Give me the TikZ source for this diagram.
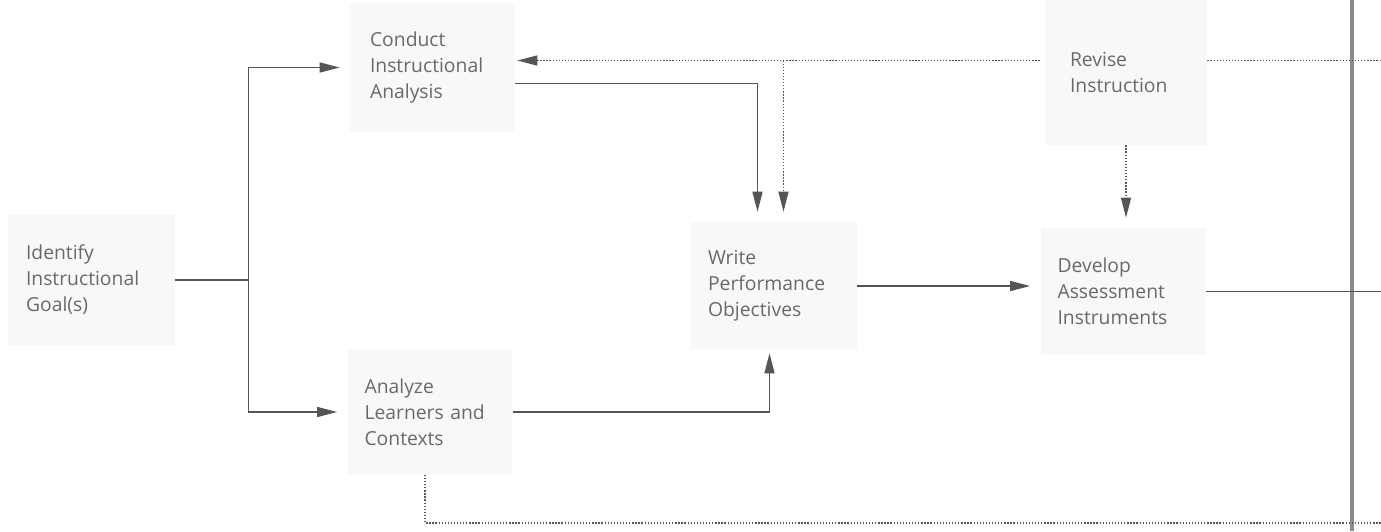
\documentclass[tikz,border=0pt]{standalone}
\usepackage{fontspec}
\setmainfont{Open Sans}
\usetikzlibrary{arrows.meta,positioning,calc}
\definecolor{LineGray}{RGB}{85,85,85}
\definecolor{TextGray}{RGB}{105,105,105}
\definecolor{BoxFill}{RGB}{248,248,248}
\definecolor{PageFold}{RGB}{140,140,140}
\tikzset{
  stepbox/.style={fill=BoxFill,minimum width=3.3cm,minimum height=2.6cm,
    text width=2.62cm,inner xsep=0.34cm,align=left,text=TextGray,
    font=\fontsize{11}{14.8}\selectfont},
  flow/.style={LineGray,line width=0.75pt},
  arrow/.style={flow,-{Triangle[length=0.4cm,width=0.2cm]},shorten >=0.2cm},
  dotarrow/.style={arrow,densely dotted},
  dotline/.style={flow,densely dotted}
}

\begin{document}
\begin{tikzpicture}[x=0.02cm,y=-0.02cm]
  \fill[white] (0,0) rectangle (1381,531);
  \useasboundingbox (0,0) rectangle (1381,531);

  % the six steps
  \node[stepbox,minimum width=3.34cm] (goal) at (91.5,280) {Identify\\Instructional\\Goal(s)};
  \node[stepbox,inner xsep=0.4cm,text width=2.5cm] (analysis) at (432.5,67.5) {Conduct\\Instructional\\Analysis};
  \node[stepbox,minimum width=3.2cm,minimum height=2.5cm] (learners) at (430,412) {Analyze\\Learners and\\Contexts};
  \node[stepbox,minimum width=3.34cm,minimum height=2.56cm] (objectives) at (773.5,286) {Write\\Performance\\Objectives};
  \node[stepbox,minimum width=3.2cm,minimum height=2.54cm] (assess) at (1123,291.5) {Develop\\Assessment\\Instruments};
  \node[stepbox,minimum width=3.24cm,minimum height=2.9cm,inner xsep=0.5cm,text width=2.24cm] (revise) at (1126,72.5) {Revise\\Instruction};

  % page fold of the book
  \draw[PageFold,line width=2pt] (1352,0) -- (1352,531);

  % goal splits into the two analyses
  \draw[flow] (goal.east) -- ++(73,0) coordinate (fork);
  \draw[arrow] (fork) |- (analysis.west);
  \draw[arrow] (fork) |- (learners.west);

  % both analyses feed the objectives
  \draw[arrow] ($(analysis.east)+(0,16)$) -| ($(objectives.north)+(-16,0)$);
  \draw[arrow,shorten >=0.06cm] (learners.east) -| ($(objectives.south)+(-4,0)$);
  \draw[arrow] (objectives.east) -- (objectives.east -| assess.west);
  \draw[flow] (assess.east) -- ++(178,0);

  % revision loop (dotted)
  \coordinate (revline) at ($(revise.west)+(-5,-12)$);
  \coordinate (branch) at ($(objectives.north)+(10,0)$);
  \draw[dotarrow,shorten >=0.04cm] (revline) -- (revline -| analysis.east);
  \draw[dotarrow] (branch |- revline) -- (branch);
  \draw[dotarrow] (revise.south) -- (revise.south |- assess.north);
  \draw[dotline] ($(revise.east)+(0,-12)$) -- ++(176,0);
  \draw[dotline] ($(learners.south)+(-5,0)$) -- ++(0,48) -- ++(956,0);
\end{tikzpicture}
\end{document}
